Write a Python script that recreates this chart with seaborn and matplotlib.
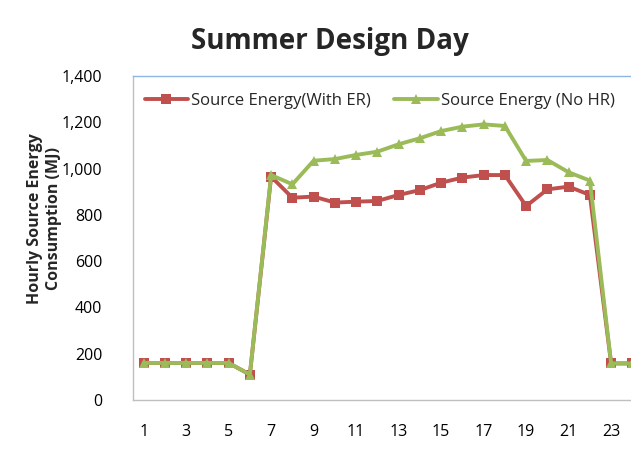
import matplotlib
matplotlib.use("Agg")
import matplotlib.pyplot as plt
import seaborn as sns
import pandas as pd

hours = list(range(1, 25))
with_er = [160, 160, 160, 160, 160, 110, 965, 874, 879, 853, 857, 860, 886, 907,
           939, 961, 972, 972, 838, 910, 922, 886, 158, 158]
no_hr = [160, 160, 160, 160, 160, 110, 972, 932, 1034, 1041, 1059, 1073, 1105, 1131,
         1162, 1181, 1191, 1184, 1033, 1037, 984, 948, 158, 158]
labels = ["Source Energy(With ER)", "Source Energy (No HR)"]
title = "Summer Design Day"
ylabel = "Hourly Source Energy\nConsumption (MJ)"
yticks = [0, 200, 400, 600, 800, 1000, 1200, 1400]
xticks = list(range(1, 25, 2))

sns.set_theme(style="white")
plt.rcParams['font.family'] = ['Open Sans', 'DejaVu Sans']

df = pd.DataFrame({"hour": hours, "with_er": with_er, "no_hr": no_hr})

fig = plt.figure(figsize=(6.31, 4.54), dpi=100)
ax = fig.add_axes([133/631, 54/454, 510/631, 324/454])

sns.lineplot(data=df, x="hour", y="with_er", ax=ax, color="#C0504D", lw=2.8,
             marker="s", markersize=7.5, markeredgewidth=0, label=labels[0])
sns.lineplot(data=df, x="hour", y="no_hr", ax=ax, color="#9BBB59", lw=2.8,
             marker="^", markersize=7.5, markeredgewidth=0, label=labels[1])

ax.set_xlim(0.5, 24.5)
ax.set_ylim(0, 1400)
ax.set_xticks(xticks)
ax.set_xticklabels([str(x) for x in xticks])
ax.set_yticks(yticks)
ax.set_yticklabels([f"{v:,}" for v in yticks])
ax.tick_params(axis="both", length=0, labelsize=11.5, colors="black")
ax.tick_params(axis="x", pad=17)
ax.tick_params(axis="y", pad=22)
ax.set_xlabel("")
ax.set_ylabel(ylabel, fontsize=11.5, fontweight="bold", linespacing=1.25)
ax.yaxis.set_label_coords(-0.14, 0.56)

for s in ["left", "bottom"]:
    ax.spines[s].set_color("#BFBFBF")
    ax.spines[s].set_linewidth(1.0)
ax.spines["top"].set_color("#8EB4E3")
ax.spines["top"].set_linewidth(1.0)
ax.spines["right"].set_visible(False)

leg = ax.legend(loc="upper left", bbox_to_anchor=(0.0, 0.985), ncol=2, frameon=False,
                fontsize=12, handlelength=2.6, handletextpad=0.2, columnspacing=1.4,
                borderaxespad=0.3)

fig.text(330/631, 1 - 42/454, title, ha="center", va="center", fontsize=20,
         fontweight="bold")

fig.savefig("out.png", dpi=100)
